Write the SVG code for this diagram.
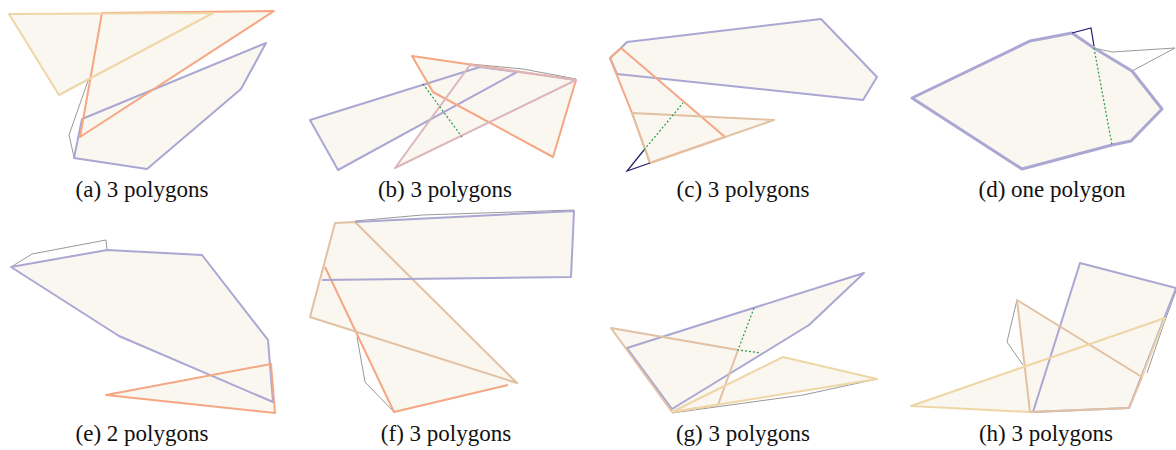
<svg xmlns="http://www.w3.org/2000/svg" width="1176" height="450" viewBox="0 0 1176 450">
<style>
.f{fill:#faf6f0;stroke:none}
.s{fill:none;stroke-width:2;stroke-linejoin:round}
.pu{stroke:#aaa7d3}
.or{stroke:#f5a783}
.ye{stroke:#efd6a6}
.ta{stroke:#e2c1a3}
.pk{stroke:#dbb6bc}
.gr{fill:none;stroke:#999;stroke-width:1}
.nv{fill:none;stroke:#1f1a6b;stroke-width:1.2}
.gd{fill:none;stroke:#2a9a4a;stroke-width:1.2;stroke-dasharray:2 2}
.cap{font-family:'Liberation Serif','Times New Roman',serif;font-size:23px;fill:#111;text-anchor:middle}
</style>
<rect width="1176" height="450" fill="#fff"/>
<g id="panel-a">
<polygon class="f" points="9,14 213,13 59,95"/>
<polygon class="f" points="102,13 274,11 80,137"/>
<polygon class="f" points="82,119 266,43 241,89 147,169 74,158"/>
<polyline class="gr" points="89,78 69,135 74,157"/>
<polygon class="s pu" points="82,119 266,43 241,89 147,169 74,158"/>
<polygon class="s or" points="102,13 274,11 80,137"/>
<polygon class="s ye" points="9,14 213,13 59,95"/>
<text class="cap" x="142" y="197" font-family="Liberation Serif, serif">(a) 3 polygons</text>
</g>
<g id="panel-b">
<polygon class="f" points="412,56 576,80 553,157 433,92"/>
<polygon class="f" points="310,120 480,67 517,72 338,170"/>
<polygon class="f" points="395,168 470,65 576,80"/>
<polyline class="gr" points="470,64 523,69 576,79"/>
<polygon class="s pu" points="310,120 480,67 517,72 338,170"/>
<polygon class="s or" points="412,56 576,80 553,157 433,92"/>
<polygon class="s pk" points="395,168 470,65 576,80"/>
<line class="gd" x1="423" y1="84" x2="462" y2="137"/>
<text class="cap" x="445" y="197" font-family="Liberation Serif, serif">(b) 3 polygons</text>
</g>
<g id="panel-c">
<polygon class="f" points="627,42 821,19 877,77 863,100 617,74 610,58 621,48"/>
<polygon class="f" points="610,58 621,48 725,137 650,163 632,113"/>
<polygon class="f" points="632,113 774,120 650,163"/>
<polygon class="s pu" points="627,42 821,19 877,77 863,100 617,74 610,58 621,48"/>
<polygon class="s or" points="610,58 621,48 725,137 650,163 632,113"/>
<polygon class="s ta" points="632,113 774,120 650,163"/>
<polyline class="nv" points="644,150 627,171 650,163"/>
<line class="gd" x1="644" y1="150" x2="683" y2="103"/>
<text class="cap" x="743" y="197" font-family="Liberation Serif, serif">(c) 3 polygons</text>
</g>
<g id="panel-d">
<polygon class="f" points="912,98 1030,41 1072,33 1094,48 1132,71 1162,109 1131,141 1112,145 1022,169"/>
<polyline class="gr" points="1094,48 1112,52 1175,48 1132,71"/>
<polygon class="s pu" style="stroke-width:3" points="912,98 1030,41 1072,33 1094,48 1132,71 1162,109 1131,141 1112,145 1022,169"/>
<polyline class="nv" points="1072,33 1091,28 1094,46"/>
<line class="gd" x1="1094" y1="48" x2="1112" y2="145"/>
<text class="cap" x="1052" y="197" font-family="Liberation Serif, serif">(d) one polygon</text>
</g>
<g id="panel-e">
<polygon class="f" points="11,267 107,250 202,255 268,340 270,365 273,402 119,336"/>
<polygon class="f" points="106,395 271,364 275,413"/>
<polyline class="gr" points="11,267 32,254 106,240 107,250"/>
<polygon class="s pu" points="11,267 107,250 202,255 268,340 270,365 273,402 119,336"/>
<polygon class="s or" points="106,395 271,364 275,413"/>
<text class="cap" x="142" y="441" font-family="Liberation Serif, serif">(e) 2 polygons</text>
</g>
<g id="panel-f">
<polygon class="f" points="335,223 355,222 574,211 571,277 322,280"/>
<polygon class="f" points="335,223 355,222 517,383 310,317"/>
<polygon class="f" points="325,267 394,412 517,383 355,222 335,223"/>
<polyline class="gr" points="355,221 422,215 574,210"/>
<polyline class="gr" points="394,412 365,382 357,337"/>
<polyline class="s or" points="325,267 394,412 508,385"/>
<polygon class="s ta" points="335,223 355,222 517,383 310,317"/>
<polyline class="s pu" points="355,222 574,211 571,277 322,280"/>
<text class="cap" x="446" y="441" font-family="Liberation Serif, serif">(f) 3 polygons</text>
</g>
<g id="panel-g">
<polygon class="f" points="627,348 864,273 809,325 672,409"/>
<polygon class="f" points="611,328 738,350 718,405 672,412"/>
<polygon class="f" points="672,412 783,357 877,379"/>
<polyline class="gr" points="672,413 803,395 877,379"/>
<polygon class="s pu" points="627,348 864,273 809,325 672,409"/>
<polygon class="s ta" points="611,328 738,350 718,405 672,412"/>
<polygon class="s ye" points="672,412 783,357 877,379"/>
<polyline class="gd" points="754,308 738,350 761,353"/>
<text class="cap" x="743" y="441" font-family="Liberation Serif, serif">(g) 3 polygons</text>
</g>
<g id="panel-h">
<polygon class="f" points="1080,263 1176,288 1129,408 1033,412"/>
<polygon class="f" points="1017,300 1142,377 1129,408 1030,412"/>
<polygon class="f" points="911,406 1165,318 1142,377 1129,408 1030,412"/>
<polyline class="gr" points="1017,300 1007,342 1023,365"/>
<polyline class="gr" points="1176,291 1163,326 1147,373"/>
<polygon class="s pu" points="1080,263 1176,288 1129,408 1033,412"/>
<polygon class="s ta" points="1017,300 1142,377 1129,408 1030,412"/>
<polyline class="s ye" points="1030,412 911,406 1165,318 1142,377"/>
<text class="cap" x="1046" y="441" font-family="Liberation Serif, serif">(h) 3 polygons</text>
</g>
</svg>
